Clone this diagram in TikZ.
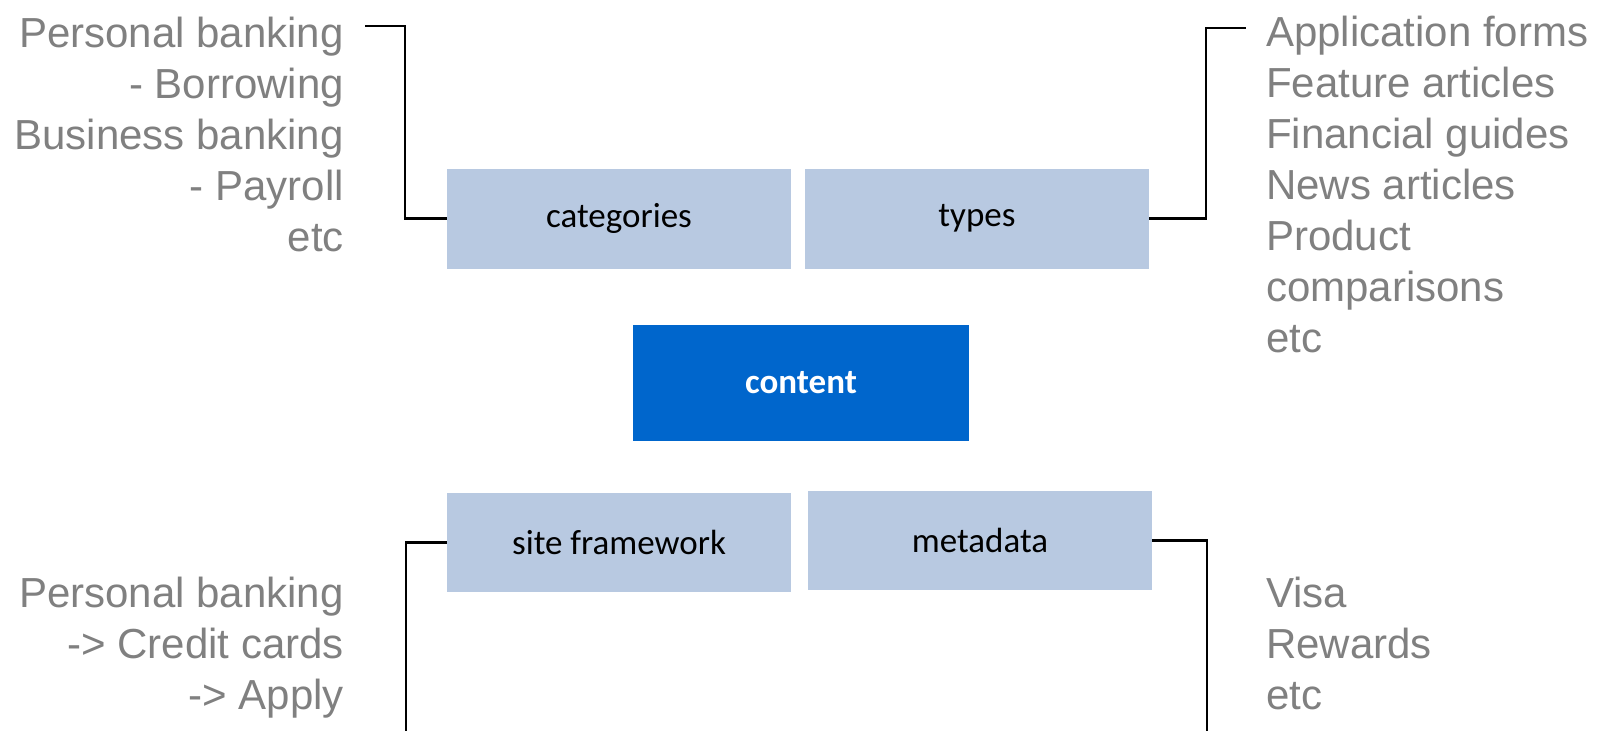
\documentclass[tikz,border=0pt]{standalone}
\usepackage{fontspec}
\setmainfont{Liberation Sans}
\newfontfamily\boxfont{Carlito}
\definecolor{lightbox}{RGB}{184,201,225}
\definecolor{darkbox}{RGB}{0,102,204}
\definecolor{graytext}{RGB}{128,128,128}
\tikzset{
  x=1pt, y=-1pt,
  catbox/.style={fill=lightbox, draw=none, inner sep=0pt, minimum width=344pt, minimum height=100pt, font=\boxfont\fontsize{35}{40}\selectfont, text=black},
  mainbox/.style={fill=darkbox, draw=none, inner sep=0pt, minimum width=336pt, minimum height=116pt, font=\boxfont\bfseries\fontsize{35}{40}\selectfont, text=white},
  conn/.style={draw=black, line width=2.4pt},
  listtext/.style={inner sep=0pt, text=graytext, font=\fontsize{42}{51}\selectfont}
}
\begin{document}
\begin{tikzpicture}
\useasboundingbox (0,0) rectangle (1601,731);
\node[catbox] (cat) at (619,218.5) {categories};
\node[catbox] (typ) at (977,218.5) {types};
\node[mainbox] (con) at (801,383) {content};
\node[catbox, minimum height=99pt] (sf) at (619,542.5) {site framework};
\node[catbox, minimum height=99pt] (meta) at (980,540.5) {metadata};

\coordinate (tlv) at (405,26);
\coordinate (tle) at (365,26);
\coordinate (trv) at (1206,28);
\coordinate (tre) at (1246,28);
\coordinate (blv) at (406,731);
\coordinate (brv) at (1207,731);

\draw[conn] (cat.west) -| (tlv) -- (tle);
\draw[conn] (typ.east) -| (trv) -- (tre);
\draw[conn] (sf.west) -| (blv);
\draw[conn] (meta.east) -| (brv);

\node[listtext, anchor=base east, align=right] (tltxt) at (344,251) {Personal banking\\- Borrowing\\Business banking\\- Payroll\\etc};
\node[listtext, anchor=base west, align=left] (trtxt) at (1266,352) {Application forms\\Feature articles\\Financial guides\\News articles\\Product\\comparisons\\etc};
\node[listtext, anchor=base east, align=right] (bltxt) at (344,709) {Personal banking\\-> Credit cards\\-> Apply};
\node[listtext, anchor=base west, align=left] (brtxt) at (1266,709) {Visa\\Rewards\\etc};
\end{tikzpicture}
\end{document}
